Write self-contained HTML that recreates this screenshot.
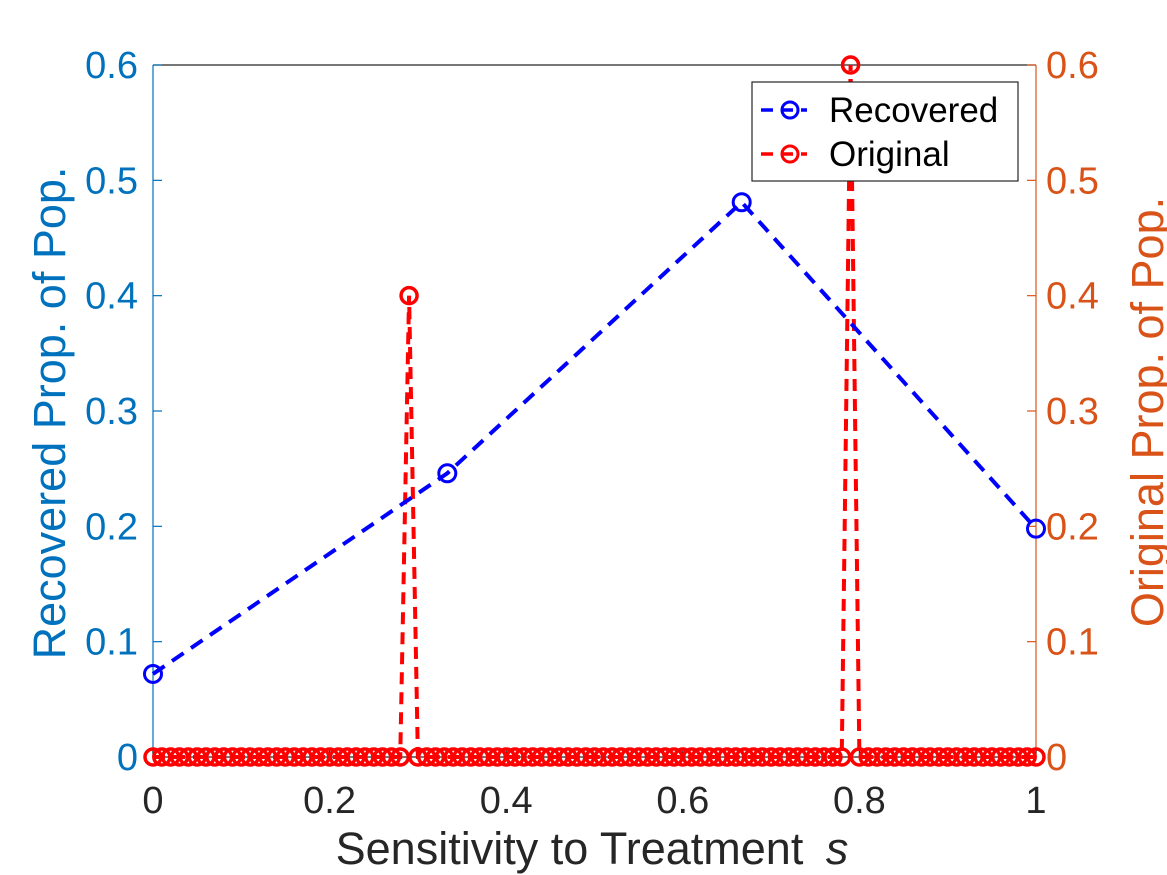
<!DOCTYPE html>
<html><head><meta charset="utf-8"><style>
html,body{margin:0;padding:0;background:#fff;width:1167px;height:875px;overflow:hidden}
text{font-family:"Liberation Sans",Arial,sans-serif}
</style></head><body>
<svg id="chart" width="1167" height="875" xmlns="http://www.w3.org/2000/svg">
<g id="axes"></g>
<g id="series"></g>
<g id="legend">
  <rect x="752" y="82" width="266" height="99" fill="#fff" stroke="#262626" stroke-width="1.2"/>
  <g>
    <line x1="761" y1="110" x2="807" y2="110" stroke="#0000ff" stroke-width="3.5" stroke-dasharray="12,8"/>
    <circle cx="790" cy="110" r="8" fill="none" stroke="#0000ff" stroke-width="3"/>
    <text x="829" y="122" font-size="35" fill="#000">Recovered</text>
  </g>
  <g>
    <line x1="761" y1="154" x2="807" y2="154" stroke="#ff0000" stroke-width="3.5" stroke-dasharray="12,8"/>
    <circle cx="790" cy="154" r="8" fill="none" stroke="#ff0000" stroke-width="3"/>
    <text x="829" y="166" font-size="35" fill="#000">Original</text>
  </g>
</g>
</svg>
<script>
const xTicks = [0, 0.2, 0.4, 0.6, 0.8, 1];
const xTickLabels = ["0", "0.2", "0.4", "0.6", "0.8", "1"];
const yTicks = [0, 0.1, 0.2, 0.3, 0.4, 0.5, 0.6];
const yTickLabels = ["0", "0.1", "0.2", "0.3", "0.4", "0.5", "0.6"];
const recoveredX = [0, 0.3333, 0.6667, 1];
const recoveredY = [0.072, 0.246, 0.481, 0.198];
const originalSpikesX = [0.29, 0.79];
const originalSpikesY = [0.4, 0.6];
const originalCount = 101;

const X0 = 153, X1 = 1036, Y0 = 757, Y1 = 65;
const sx = v => X0 + (X1 - X0) * v;
const sy = v => Y0 - (Y0 - Y1) * v / 0.6;
const NS = "http://www.w3.org/2000/svg";
function mk(tag, attrs, parent, txt) {
  const e = document.createElementNS(NS, tag);
  for (const k in attrs) e.setAttribute(k, attrs[k]);
  if (txt !== undefined) e.textContent = txt;
  parent.appendChild(e);
  return e;
}
const axes = document.getElementById('axes');
const series = document.getElementById('series');

let e;
e = mk('line', {x1: X0, y1: Y1, x2: X1, y2: Y1, stroke: '#262626', 'stroke-width': 1.2}, axes);


e = mk('line', {x1: X0, y1: Y0, x2: X1, y2: Y0, stroke: '#262626', 'stroke-width': 1.2}, axes);


e = mk('line', {x1: X0, y1: Y1, x2: X0, y2: Y0, stroke: '#0072BD', 'stroke-width': 1.2}, axes);


e = mk('line', {x1: X1, y1: Y1, x2: X1, y2: Y0, stroke: '#D95319', 'stroke-width': 1.2}, axes);



xTicks.forEach((t, i) => {
  const x = sx(t);
  let l = mk('line', {x1: x, y1: Y0, x2: x, y2: Y0 - 9, stroke: '#262626', 'stroke-width': 1.2}, axes);
  
  
  let tx = mk('text', {x: x, y: 813, 'font-size': 38, fill: '#262626', 'text-anchor': 'middle'}, axes, xTickLabels[i]);
  
  
});
yTicks.forEach((t, i) => {
  const y = sy(t);
  let l = mk('line', {x1: X0, y1: y, x2: X0 + 9, y2: y, stroke: '#0072BD', 'stroke-width': 1.2}, axes);
  
  
  let tx = mk('text', {x: 138, y: y + 13, 'font-size': 38, fill: '#0072BD', 'text-anchor': 'end'}, axes, yTickLabels[i]);
  
  
  let r = mk('line', {x1: X1, y1: y, x2: X1 - 9, y2: y, stroke: '#D95319', 'stroke-width': 1.2}, axes);
  
  
  let rt = mk('text', {x: 1046, y: y + 13, 'font-size': 38, fill: '#D95319', 'text-anchor': 'start'}, axes, yTickLabels[i]);
  
  
});
e = mk('text', {x: 592, y: 864, 'font-size': 45, fill: '#262626', 'text-anchor': 'middle'}, axes);


e.innerHTML = 'Sensitivity to Treatment <tspan dx="10" font-style="italic">s</tspan>';
e = mk('text', {x: 0, y: 0, 'font-size': 45, fill: '#0072BD', 'text-anchor': 'middle', transform: 'translate(65,413) rotate(-90)'}, axes, 'Recovered Prop. of Pop.');


e = mk('text', {x: 0, y: 0, 'font-size': 45, fill: '#D95319', 'text-anchor': 'middle', transform: 'translate(1163,412) rotate(-90)'}, axes, 'Original Prop. of Pop.');



// original series
const origX = [], origY = [];
for (let i = 0; i < originalCount; i++) {
  const s = i / (originalCount - 1);
  origX.push(s);
  let v = 0;
  originalSpikesX.forEach((px, j) => { if (Math.abs(px - s) < 1e-6) v = originalSpikesY[j]; });
  origY.push(v);
}
e = mk('polyline', {points: origX.map((x, i) => sx(x) + ',' + sy(origY[i])).join(' '), fill: 'none', stroke: '#ff0000', 'stroke-width': 4, 'stroke-dasharray': '12,8'}, series);


origX.forEach((x, i) => {
  let c = mk('circle', {cx: sx(x), cy: sy(origY[i]), r: 8, fill: 'none', stroke: '#ff0000', 'stroke-width': 3.5}, series);
  
  
});
// recovered series
e = mk('polyline', {points: recoveredX.map((x, i) => sx(x) + ',' + sy(recoveredY[i])).join(' '), fill: 'none', stroke: '#0000ff', 'stroke-width': 4, 'stroke-dasharray': '14,9'}, series);


recoveredX.forEach((x, i) => {
  let c = mk('circle', {cx: sx(x), cy: sy(recoveredY[i]), r: 8.5, fill: 'none', stroke: '#0000ff', 'stroke-width': 3}, series);
  
  
});
</script>
</body></html>
